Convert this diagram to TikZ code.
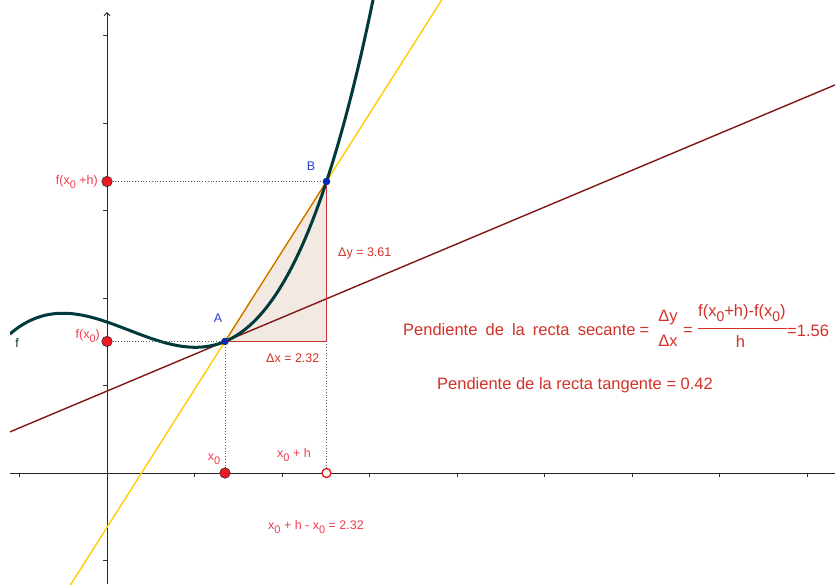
\documentclass[tikz,border=0pt]{standalone}
\usepackage{fontspec}
\setmainfont{Liberation Sans}
\usetikzlibrary{calc,arrows.meta}
\definecolor{curvec}{RGB}{0,58,58}
\definecolor{tanc}{RGB}{128,22,22}
\definecolor{secc}{RGB}{255,204,0}
\definecolor{abc}{RGB}{204,102,0}
\definecolor{trired}{RGB}{204,51,51}
\definecolor{trifill}{RGB}{242,233,226}
\definecolor{dotc}{RGB}{90,90,90}
\definecolor{ptred}{RGB}{240,25,35}
\definecolor{ptblue}{RGB}{0,40,200}
\definecolor{lblpink}{RGB}{240,60,80}
\definecolor{lblred}{RGB}{210,50,40}
\definecolor{lblblue}{RGB}{40,60,210}
\newcommand\subzs{\raisebox{-3.6pt}{\fontsize{11}{11}\selectfont 0}}
\newcommand\subzb{\raisebox{-4.6pt}{\fontsize{14}{14}\selectfont 0}}
\begin{document}
\begin{tikzpicture}[x=1pt,y=-1pt,
  declare function={ff(\t)=0.05605*\t*\t*\t-0.0854*\t*\t-0.342*\t+3.451;
                    px(\t)=107+43.75*\t; py(\t)=473-43.75*\t;},
  axisline/.style={line width=0.9pt,black!85},
  tickline/.style={line width=0.7pt,black!80},
  curveline/.style={line width=3pt,curvec},
  tanline/.style={line width=1.4pt,tanc},
  secline/.style={line width=1.4pt,secc},
  abline/.style={line width=1.1pt,abc},
  triside/.style={line width=1.1pt,trired},
  dotline/.style={line width=0.8pt,dotc,dash pattern=on 0.8pt off 2pt},
  redpt/.style={circle,fill=ptred,draw=black!80,line width=0.6pt,inner sep=0pt,minimum size=10.5pt},
  openpt/.style={circle,fill=white,draw=ptred,line width=1.4pt,inner sep=0pt,minimum size=9pt},
  bluept/.style={circle,fill=ptblue,draw=black!80,line width=0.5pt,inner sep=0pt,minimum size=7pt},
  small/.style={font=\fontsize{12.5}{15}\selectfont,inner sep=0pt},
  big/.style={font=\fontsize{16.5}{20}\selectfont,inner sep=0pt,text=lblred},
]
\useasboundingbox (0,0) rectangle (835,584);
\fill[white] (0,0) rectangle (835,584);

\coordinate (O) at (107,473);
\coordinate (A) at ({px(2.697)},{py(ff(2.697))});
\coordinate (B) at ({px(5.017)},{py(ff(5.017))});
\coordinate (C) at (B |- A);
\coordinate (FA) at (O |- A);
\coordinate (FB) at (O |- B);
\coordinate (XA) at (A |- O);
\coordinate (XB) at (B |- O);
\coordinate (XL) at (10,473);
\coordinate (XR) at (835,473);
\coordinate (YB) at (107,584);
\coordinate (YT) at (107,12);
\coordinate (TL) at ($(A)+(-215,90.4)$);
\coordinate (TR) at ($(A)+(610,-256.5)$);

% axes
\draw[axisline] (XL) -- (XR);
\draw[axisline,-{Straight Barb[length=3pt,width=6pt]}] (YB) -- (YT);
\foreach \k in {-1,1,2,3,4,5,6,7,8} \draw[tickline] ({107+87.5*\k},473) -- ++(0,4);
\foreach \k in {-1,1,2,3,4,5} \draw[tickline] (107,{473-87.5*\k}) -- ++(-4,0);

% triangle
\fill[trifill] (A) -- (C) -- (B) -- cycle;

\begin{scope}
\clip (10,0) rectangle (835,584);
\draw[tanline] (TL) -- (TR);
\draw[secline] ($(A)!-2!(B)$) -- ($(A)!4!(B)$);
\draw[abline] (A) -- (B);
\draw[curveline] plot[domain=-2.22:6.1,samples=160] ({px(\x)},{py(ff(\x))});
\end{scope}

\draw[triside] (A) -- (C) -- (B);

% dotted guides
\draw[dotline] (FA) -- (A);
\draw[dotline] (FB) -- (B);
\draw[dotline] (A) -- (XA);
\draw[dotline] (C) -- (XB);

% points
\node[redpt] (PFA) at (FA) {};
\node[redpt] (PFB) at (FB) {};
\node[redpt] (PXA) at (XA) {};
\node[openpt] (PXB) at (XB) {};
\node[bluept] (PA) at (A) {};
\node[bluept] (PB) at (B) {};

% labels
\node[small,text=lblpink,anchor=east] (lFB) at (98,182) {f(x\subzs\ +h)};
\node[small,text=lblpink,anchor=east] (lFA) at (100,336) {f(x\subzs)};
\node[small,text=lblpink] (lXA) at (214,459) {x\subzs};
\node[small,text=lblpink] (lXB) at (294,455) {x\subzs\ + h};
\node[small,text=lblblue] (lA) at (218,318) {A};
\node[small,text=lblblue] (lB) at (311,166) {B};
\node[small,text=lblred,anchor=west] (ldy) at (338,253) {Δy = 3.61};
\node[small,text=lblred,anchor=west] (ldx) at (266,358) {Δx = 2.32};
\node[small,text=lblpink,anchor=west] (ldif) at (268,527) {x\subzs\ + h - x\subzs\ = 2.32};
\node[small,text=curvec] (lf) at (17,343) {f};

% formulas
\node[big,anchor=west] (sec) at (403,330) {\spaceskip=8.1pt\relax Pendiente de la recta secante};
\node[big] (eq1) at (644.5,331) {=};
\node[big] (dy) at (668,318) {Δy};
\node[big] (dx) at (668,341) {Δx};
\node[big] (eq2) at (688,331) {=};
\node[big,anchor=west] (num) at (698,313) {f(x\subzb+h)-f(x\subzb)};
\coordinate (FL) at (698,328);
\coordinate (FR) at (787,328);
\draw[line width=0.8pt,lblred] (FL) -- (FR);
\node[big] (den) at (740.5,342) {h};
\node[big,anchor=west] (res) at (787,331) {=1.56};
\node[big,anchor=west] (tang) at (437,385) {Pendiente de la recta tangente = 0.42};
\end{tikzpicture}
\end{document}
